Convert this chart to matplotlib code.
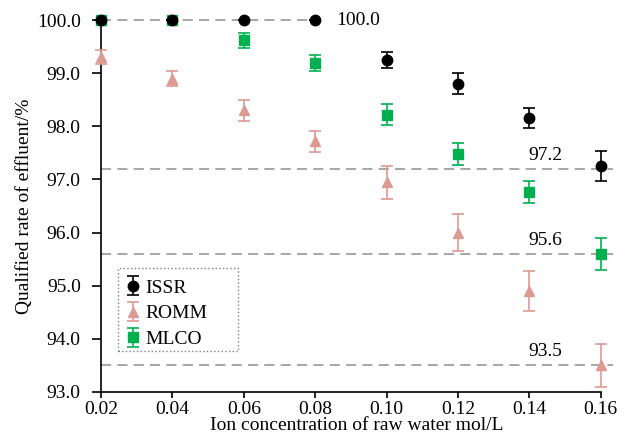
import matplotlib.pyplot as plt
from matplotlib.patches import Rectangle

plt.rcParams['font.family'] = ['Liberation Serif', 'DejaVu Serif']

conc = [0.02, 0.04, 0.06, 0.08, 0.10, 0.12, 0.14, 0.16]

issr = [100.0, 100.0, 100.0, 100.0, 99.25, 98.8, 98.15, 97.25]
issr_err = [0, 0, 0, 0, 0.15, 0.2, 0.19, 0.28]

romm = [99.3, 98.9, 98.3, 97.72, 96.95, 96.0, 94.9, 93.5]
romm_err = [0.13, 0.14, 0.2, 0.2, 0.31, 0.35, 0.37, 0.4]

mlco = [100.0, 100.0, 99.62, 99.19, 98.22, 97.48, 96.76, 95.6]
mlco_err = [0, 0, 0.14, 0.15, 0.2, 0.21, 0.21, 0.3]

ref_vals = [100.0, 97.2, 95.6, 93.5]
ref_labels = ['100.0', '97.2', '95.6', '93.5']
ref_ends = [0.0792, 0.1635, 0.1635, 0.1635]
ref_label_x = [0.092, 0.1445, 0.1445, 0.1445]

fig = plt.figure(figsize=(6.3, 4.37), dpi=100)
ax = fig.add_axes([0.1603, 0.103, 0.813, 0.851])

for v, lab, xe, lx in zip(ref_vals, ref_labels, ref_ends, ref_label_x):
    ax.plot([0.02, xe], [v, v], color='#a6a6a6', lw=1.4, ls=(0, (5.2, 3.2)),
            clip_on=False, zorder=1)
    if lab == '100.0':
        ax.text(lx, v, lab, ha='center', va='center', fontsize=14)
    else:
        ax.text(lx, v + 0.1, lab, ha='center', va='bottom', fontsize=14)

kw = dict(ls='none', capsize=4, elinewidth=1.2, capthick=1.2,
          clip_on=False, markersize=7.5)
e1 = ax.errorbar(conc, issr, yerr=issr_err, fmt='o', color='black',
                 label='ISSR', zorder=5, **kw)
e2 = ax.errorbar(conc, romm, yerr=romm_err, fmt='^', color='#dc9a94',
                 label='ROMM', zorder=3, **kw)
e3 = ax.errorbar(conc, mlco, yerr=mlco_err, fmt='s', color='#00b050',
                 label='MLCO', zorder=4, **kw)
for e in (e1, e2, e3):
    for c in e[1] + e[2]:
        c.set_clip_on(False)

ax.set_xlim(0.02, 0.1635)
ax.set_ylim(93.0, 100.0)
ax.set_xticks(conc)
ax.set_xticklabels(['%.2f' % c for c in conc])
ax.set_yticks([93, 94, 95, 96, 97, 98, 99, 100])
ax.set_yticklabels(['%.1f' % v for v in range(93, 101)])

ax.spines['top'].set_visible(False)
ax.spines['right'].set_visible(False)
ax.spines['bottom'].set_bounds(0.02, 0.16)
ax.spines['left'].set_linewidth(1.2)
ax.spines['bottom'].set_linewidth(1.2)
ax.tick_params(direction='out', width=1.2, labelsize=14)
ax.tick_params(axis='x', length=4.5, pad=2)
ax.tick_params(axis='y', length=6.5, pad=8)

ax.set_xlabel('Ion concentration of raw water mol/L', fontsize=14, labelpad=-1)
ax.set_ylabel('Qualified rate of effluent/%', fontsize=14, labelpad=3)

ax.add_patch(Rectangle((0.033, 0.11), 0.234, 0.223, transform=ax.transAxes,
                       fill=False, edgecolor='#808080', ls=':', lw=1.0,
                       zorder=6))
leg = ax.legend(loc='lower left', bbox_to_anchor=(0.012, 0.071), fontsize=14,
                frameon=False, handlelength=0.9, handletextpad=0.15,
                borderpad=0.4, labelspacing=0.42)

fig.savefig('out.png', dpi=100)
